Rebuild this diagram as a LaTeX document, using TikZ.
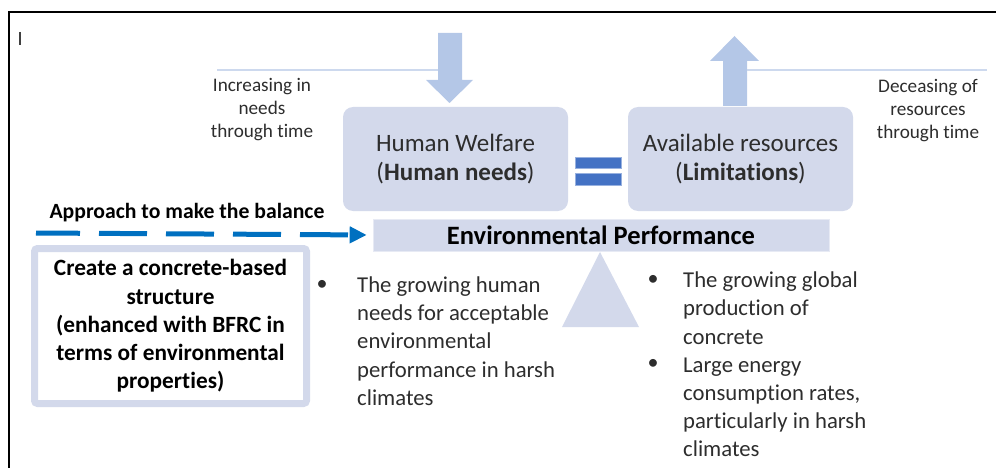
\documentclass[tikz,border=0pt]{standalone}
\usepackage{fontspec}
\setmainfont{Carlito}[Ligatures=NoCommon]
\usetikzlibrary{arrows.meta,positioning}
\definecolor{panel}{RGB}{211,217,235}
\definecolor{arrowblue}{RGB}{180,199,231}
\definecolor{thinblue}{RGB}{205,217,238}
\definecolor{dashblue}{RGB}{0,112,192}
\definecolor{eqblue}{RGB}{68,114,196}
\definecolor{txtgray}{RGB}{45,45,45}

\begin{document}
\begin{tikzpicture}[x=1pt,y=-1pt,
  panelbox/.style={fill=panel,rounded corners=10pt,minimum width=225pt,minimum height=104pt,
    align=center,font=\fontsize{25}{29}\selectfont,text=txtgray},
  smalltxt/.style={align=center,font=\fontsize{19.2}{23}\selectfont,text=txtgray},
  listtxt/.style={align=left,anchor=west,inner sep=0pt,font=\fontsize{22.7}{28.2}\selectfont,text=txtgray},
  bul/.style={font=\fontsize{22}{28}\selectfont,text=txtgray,inner sep=0pt},
  eqbar/.style={fill=eqblue,draw=eqblue!55,line width=0.6pt,minimum width=46pt,inner sep=0pt}]
\useasboundingbox (0,0) rectangle (996,468);
\draw[line width=2.5pt] (9,468) -- (9,12) -- (996,12);
\draw[line width=1.5pt,black!75] (20,32) -- (20,45);

% balance: the two sides
\node[panelbox] (welfare) at (455.5,159) {Human Welfare\\(\textbf{Human needs})};
\node[panelbox] (resources) at (740.5,159) {Available resources\\(\textbf{Limitations})};
\node[eqbar,minimum height=11pt] (eqtop) at (598,162.5) {};
\node[eqbar,minimum height=12pt] (eqbot) at (598,179) {};

% block arrows
\fill[arrowblue] (438,33) -- (462,33) -- (462,80) -- (473,80) -- (449.5,103) -- (426,80) -- (438,80) -- cycle;
\fill[arrowblue] (723,106) -- (747,106) -- (747,61) -- (759,61) -- (734.5,36) -- (710,61) -- (723,61) -- cycle;
\coordinate (needline) at (217,70);
\coordinate (needarrow) at (438,70);
\coordinate (resarrow) at (747,70);
\coordinate (resline) at (987,70);
\draw[thinblue,line width=1.3pt] (needline) -- (needarrow);
\draw[thinblue,line width=1.3pt] (resarrow) -- (resline);
\node[smalltxt] (needs) at (262,110) {Increasing in\\needs\\through time};
\node[smalltxt] (decline) at (928,111) {Deceasing of\\resources\\through time};

% beam and pivot
\node[fill=panel,draw=panel!55,line width=0.6pt,minimum width=456pt,minimum height=32pt,
  font=\bfseries\fontsize{26.5}{30}\selectfont] (envperf) at (601,235) {Environmental Performance};
\fill[panel] (600,252) -- (639,327) -- (562,327) -- cycle;

% approach
\node[font=\bfseries\fontsize{21.7}{26}\selectfont] (approach) at (187,213) {Approach to make the balance};
\coordinate (dashstart) at (36,233);
\draw[dashblue,line width=5pt,dash pattern=on 48pt off 19pt,dash phase=4pt,
  -{Triangle[length=17pt,width=16pt]},shorten >=6pt] (dashstart) -- (envperf.west);
\node[draw=panel,line width=7pt,rounded corners=3pt,minimum width=272pt,minimum height=155pt,
  align=center,font=\bfseries\fontsize{23.3}{28.2}\selectfont] (strucbox) at (170.5,326)
  {Create a concrete-based\\structure\\(enhanced with BFRC in\\terms of environmental\\properties)};

% lists
\node[bul] (bulA) at (322,285) {•};
\node[listtxt] (humanlist) at (357,341) {The growing human\\needs for acceptable\\environmental\\performance in harsh\\climates};
\node[bul] (bulB) at (653,280) {•};
\node[bul] (bulC) at (653,364) {•};
\node[listtxt] (prodlist) at (683,364.5) {The growing global\\production of\\concrete\\Large energy\\consumption rates,\\particularly in harsh\\climates};
\end{tikzpicture}
\end{document}
